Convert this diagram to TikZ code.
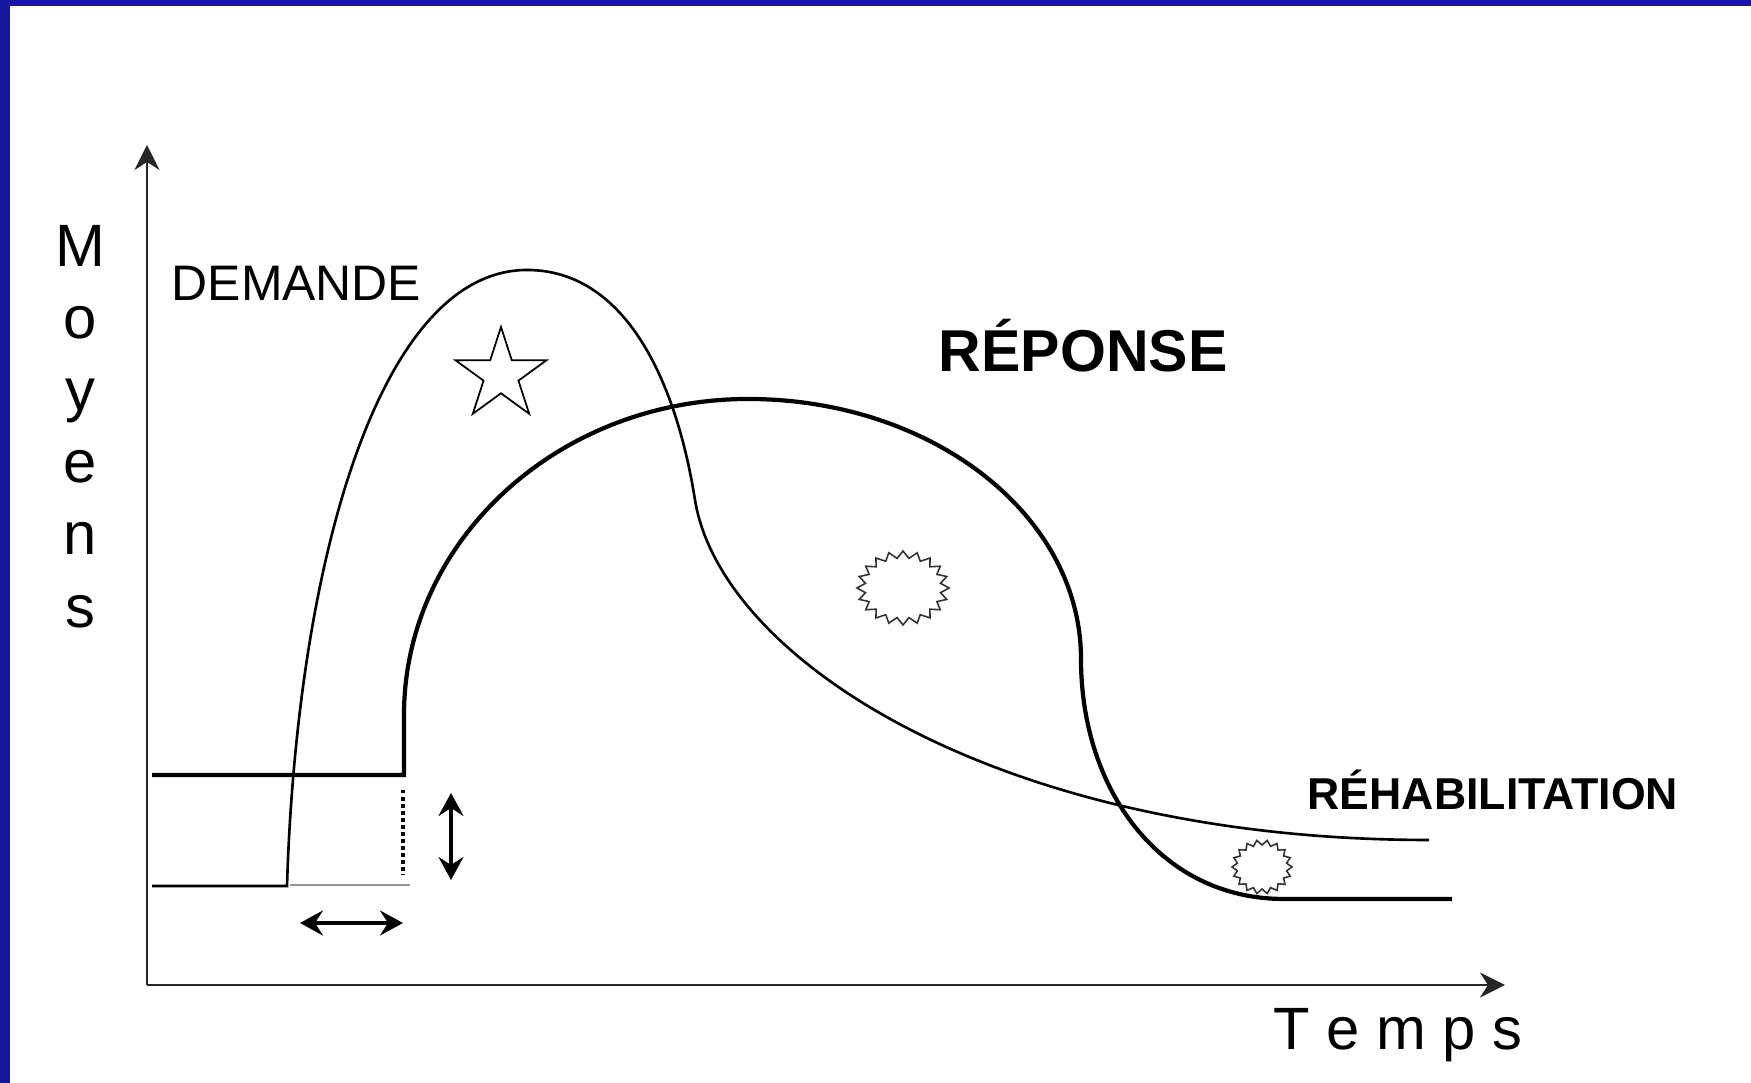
\documentclass[tikz,border=0pt]{standalone}
\usepackage{fontspec}
\setmainfont{Liberation Sans}
\usepackage{tikz}
\usetikzlibrary{arrows.meta,shapes.geometric}
\definecolor{rpblue}{RGB}{22,22,158}
\definecolor{rpgray}{RGB}{150,150,150}
\tikzset{
  rpaxis/.style={-{Stealth[length=2.5mm,width=2.5mm,inset=0.8mm]}, line width=0.7pt, draw=black!85},
  rpthin/.style={line width=0.75pt, draw=black},
  rpthick/.style={line width=1.2pt, draw=black},
  rpboth/.style={{Stealth[length=2.3mm,width=2.5mm,inset=0.8mm]}-{Stealth[length=2.3mm,width=2.5mm,inset=0.8mm]}, line width=0.9pt},
  rpletters/.style={inner sep=0pt, font=\fontsize{17}{20.5}\selectfont},
  rplabel/.style={inner sep=0pt, font=\fontsize{14.2}{17}\selectfont},
  rptitle/.style={inner sep=0pt, font=\bfseries\fontsize{16.8}{20}\selectfont},
  rpsmall/.style={inner sep=0pt, font=\bfseries\fontsize{12.7}{15}\selectfont},
  rpburst/.style={line width=0.45pt, draw=black!80}
}

\begin{document}
\begin{tikzpicture}
  \useasboundingbox (0.00cm,0.00cm) rectangle (17.51cm,10.83cm);
  \fill[rpblue] (0.00cm,10.77cm) rectangle (17.51cm,10.83cm);
  \fill[rpblue] (0.00cm,0.00cm) rectangle (0.10cm,10.83cm);
  % axes
  \coordinate (o) at (1.47cm,0.98cm);
  \coordinate (yTop) at (1.47cm,9.38cm);
  \coordinate (xEnd) at (15.05cm,0.98cm);
  \draw[rpaxis] (o) -- (yTop);
  \draw[rpaxis] (o) -- (xEnd);
  \node[rpletters, align=center, anchor=north] (moyens) at (0.80cm,8.58cm) {M\\o\\y\\e\\n\\s};
  \node[rpletters, anchor=base west] (temps) at (12.73cm,0.33cm) {T e m p s};
  % demande
  \draw[rpthin] (1.52cm,1.97cm) -- (2.87cm,1.97cm)
    .. controls (2.97cm,5.23cm) and (3.80cm,8.13cm) .. (5.27cm,8.13cm)
    .. controls (6.25cm,8.13cm) and (6.76cm,7.03cm) .. (6.95cm,5.83cm)
    .. controls (7.21cm,4.23cm) and (10.00cm,2.43cm) .. (14.29cm,2.43cm);
  % reponse
  \draw[rpthick] (1.52cm,3.08cm) -- (4.04cm,3.08cm) -- (4.04cm,3.68cm)
    .. controls (4.04cm,5.42cm) and (5.58cm,6.84cm) .. (7.48cm,6.84cm)
    .. controls (9.32cm,6.84cm) and (10.81cm,5.68cm) .. (10.81cm,4.24cm)
    .. controls (10.81cm,2.93cm) and (11.60cm,1.84cm) .. (12.84cm,1.84cm)
    -- (14.52cm,1.84cm);
  % retard et ecart
  \coordinate (dA) at (4.03cm,2.93cm);
  \coordinate (dB) at (4.03cm,2.08cm);
  \draw[line width=1pt, dash pattern=on 1pt off 1pt] (dA) -- (dB);
  \coordinate (gA) at (2.90cm,1.98cm);
  \coordinate (gB) at (4.10cm,1.98cm);
  \draw[rpgray, line width=0.4pt] (gA) -- (gB);
  \coordinate (vA) at (4.51cm,2.90cm);
  \coordinate (vB) at (4.51cm,2.03cm);
  \draw[rpboth] (vA) -- (vB);
  \coordinate (hA) at (3.00cm,1.60cm);
  \coordinate (hB) at (4.03cm,1.60cm);
  \draw[rpboth] (hA) -- (hB);
  % labels
  \node[rplabel, anchor=base west] (demande) at (1.71cm,7.82cm) {DEMANDE};
  \node[rptitle, anchor=base west] (reponse) at (9.38cm,7.11cm) {RÉPONSE};
  \node[rpsmall, anchor=base west] (rehab) at (13.07cm,2.73cm) {RÉHABILITATION};
  \node[draw, star, star points=5, star point ratio=2.62, minimum size=0.96cm,
    inner sep=0pt, line width=0.5pt] (etoile) at (5.01cm,7.08cm) {};
  \draw[rpburst, shift={(9.03cm,4.95cm)}] (0:0.46cm and 0.37cm)
    \foreach \a in {0,18,...,342} { -- (\a:0.46cm and 0.37cm) -- (\a+9:0.38cm and 0.30cm) } -- cycle;
  \draw[rpburst, shift={(12.62cm,2.16cm)}] (0:0.30cm and 0.27cm)
    \foreach \a in {0,20,...,340} { -- (\a:0.30cm and 0.27cm) -- (\a+10:0.25cm and 0.22cm) } -- cycle;
\end{tikzpicture}
\end{document}
